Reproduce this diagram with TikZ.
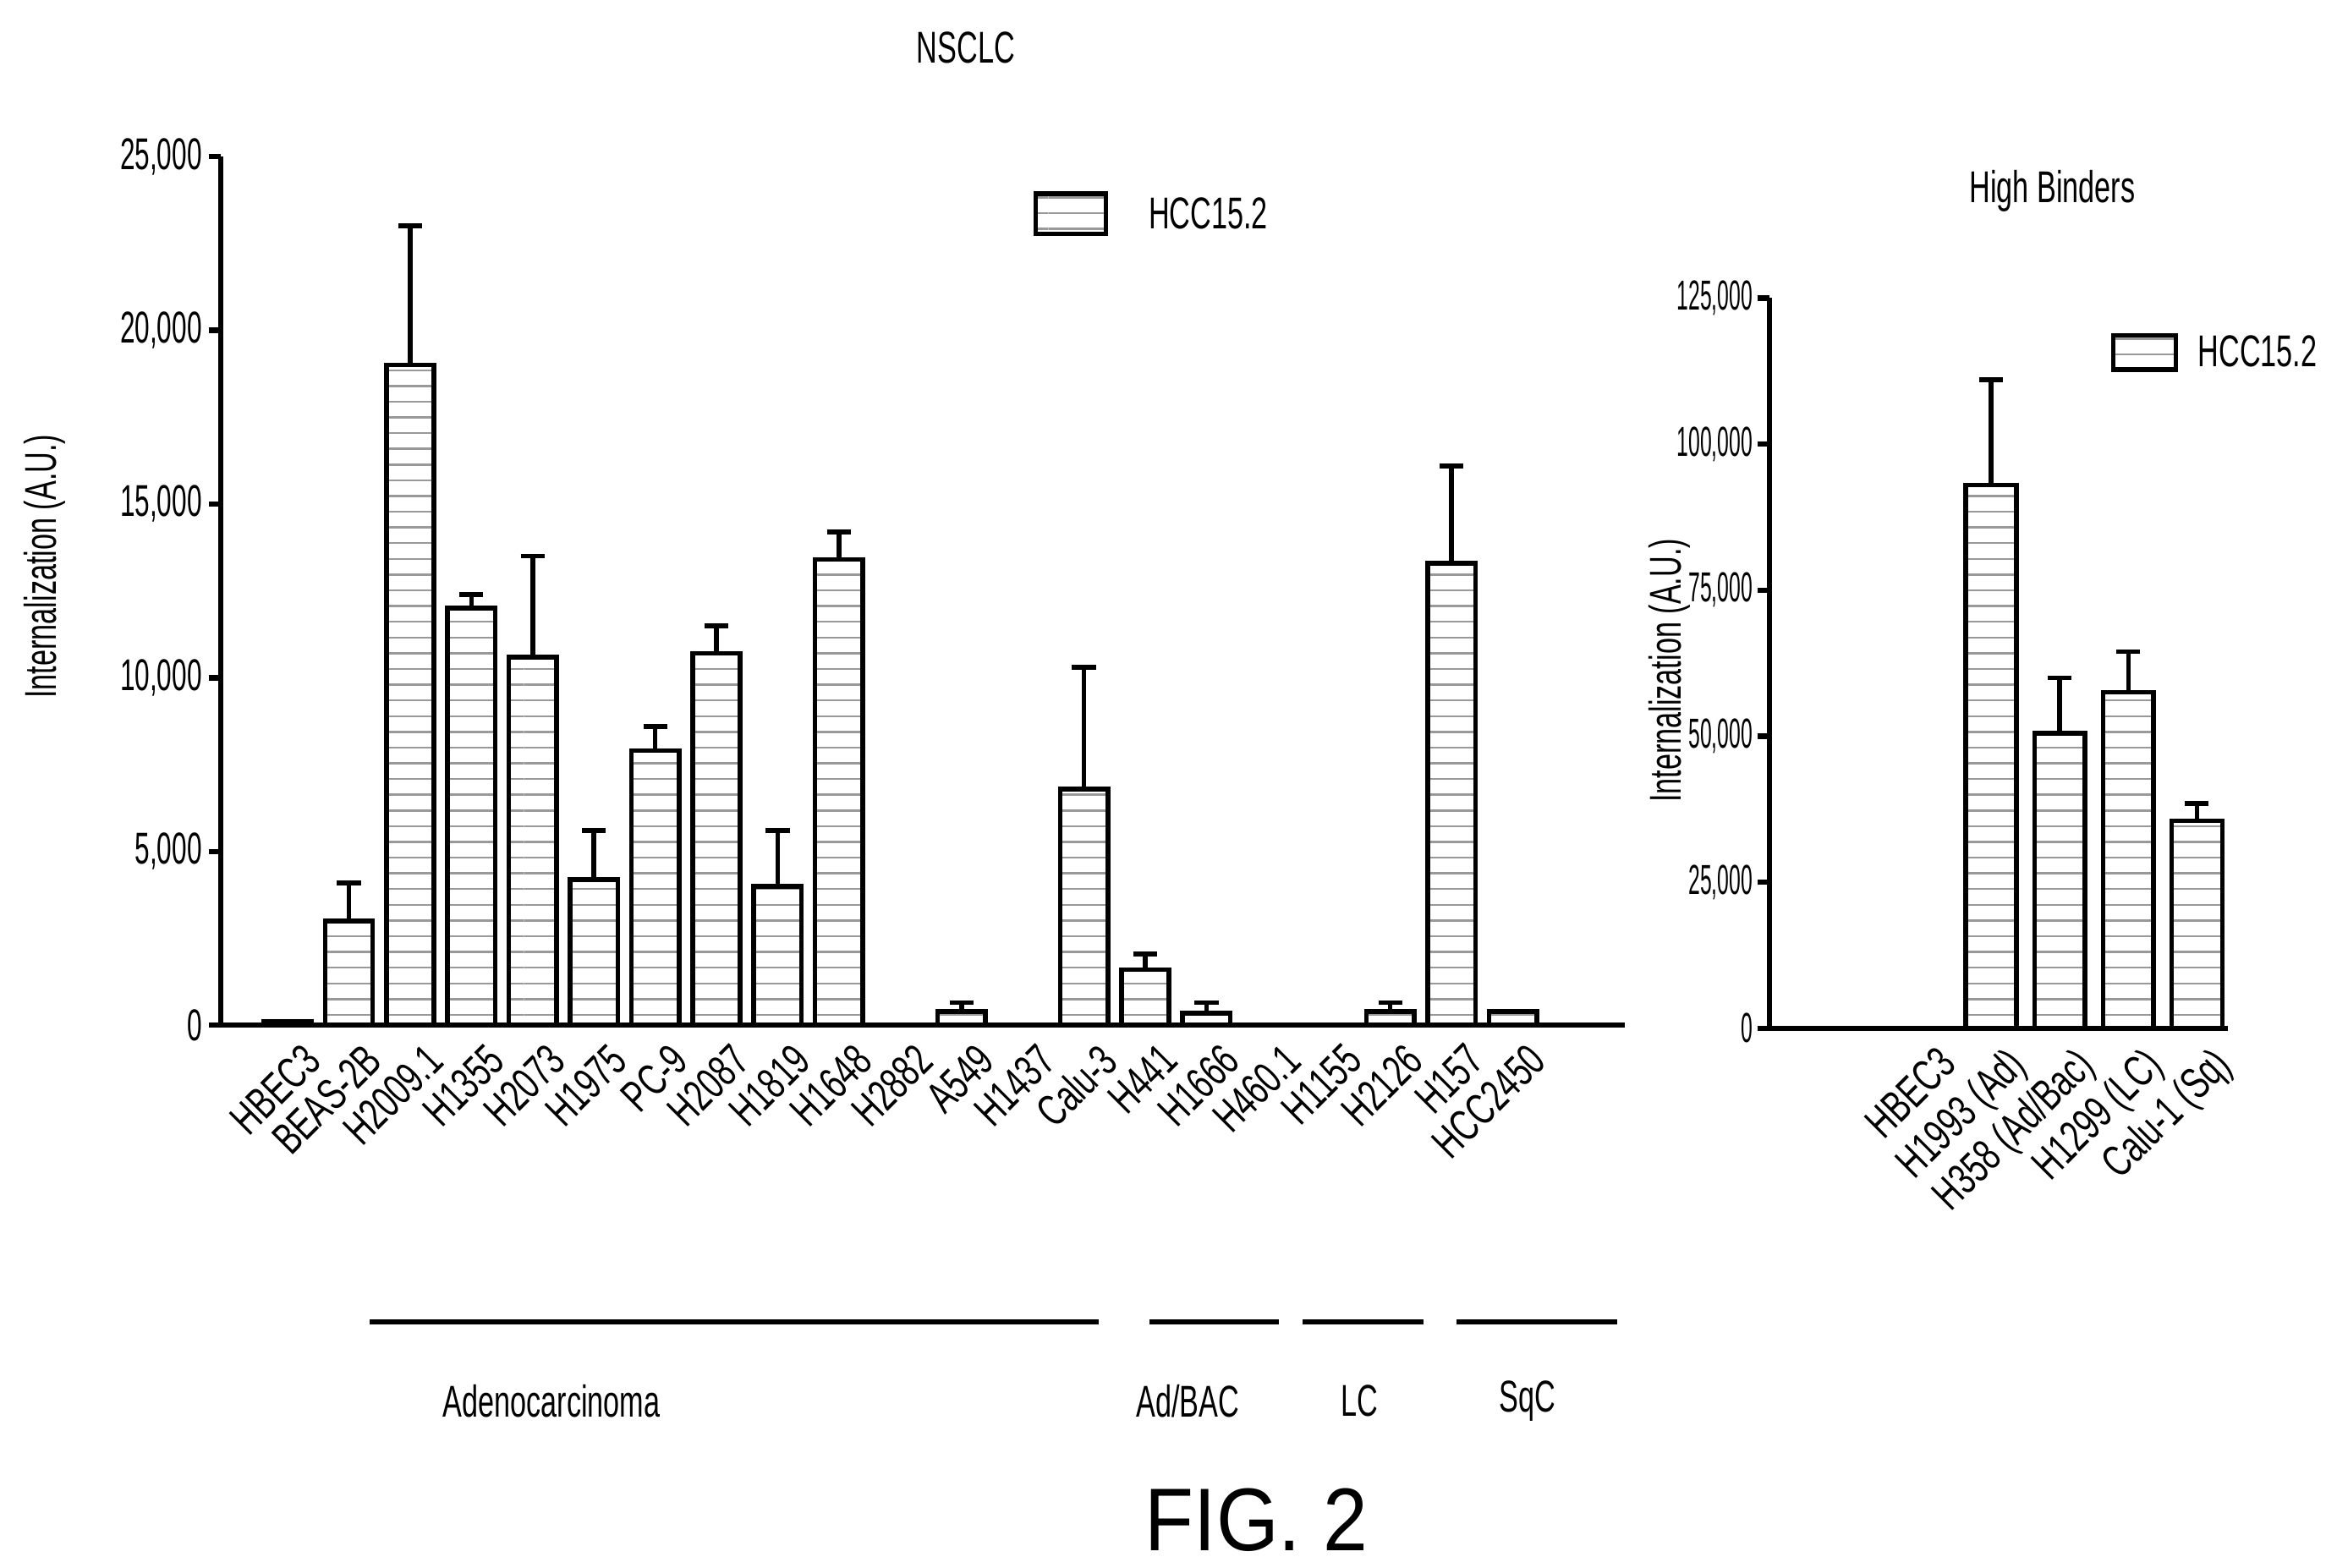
\documentclass[tikz,border=0pt]{standalone}
\usepackage{fontspec}
\setmainfont{Liberation Sans}
\usetikzlibrary{patterns}
\begin{document}
\begin{tikzpicture}[x=0.01cm,y=-0.01cm,
 bar/.style={draw=black,line width=0.9pt,pattern=horizontal lines,pattern color=gray!80},
 err/.style={line width=0.9pt},
 lbl/.style={font=\fontsize{8.5}{10}\selectfont,inner sep=1pt},
 ax/.style={line width=1pt}]
\useasboundingbox (0,0) rectangle (1568,1052);
% ---------- left chart
\node[lbl,xscale=0.65] (t1) at (648,32) {NSCLC};
\draw[ax] (148,105) -- (148,688) -- (1090,688);
\foreach \v/\s in {0/0,5/{5,000},10/{10,000},15/{15,000},20/{20,000},25/{25,000}}{
  \pgfmathsetmacro\yy{688-\v/25*583}
  \draw[ax] (140,\yy) -- (148,\yy);
  \node[lbl,anchor=east,xscale=0.6] at (138,\yy) {\s};
}
\node[lbl,rotate=90,xscale=0.65] (yl1) at (30,380) {Internalization (A.U.)};
\foreach \i/\n/\v/\e in {0/HBEC3/0.1/0,1/BEAS-2B/3/4.1,2/H2009.1/19/23,3/H1355/12/12.4,
 4/H2073/10.6/13.5,5/H1975/4.2/5.6,6/PC-9/7.9/8.6,7/H2087/10.7/11.5,8/H1819/4/5.6,
 9/H1648/13.4/14.2,10/H2882/0/0,11/A549/0.4/0.65,12/H1437/0/0,13/Calu-3/6.8/10.3,
 14/H441/1.6/2.05,15/H1666/0.35/0.65,16/H460.1/0/0,17/H1155/0/0,18/H2126/0.4/0.65,
 19/H157/13.3/16.1,20/HCC2450/0.4/0}{
  \pgfmathsetmacro\xx{193+\i*41.1}
  \pgfmathsetmacro\yy{688-\v/25*583}
  \pgfmathsetmacro\ye{688-\e/25*583}
  \pgfmathparse{\v>0?1:0}\ifnum\pgfmathresult=1 \draw[bar] (\xx-16,688) rectangle (\xx+16,\yy); \fi
  \pgfmathparse{\e>0?1:0}\ifnum\pgfmathresult=1 \draw[err] (\xx,\yy) -- (\xx,\ye) (\xx-8,\ye) -- (\xx+8,\ye); \fi
  \node[lbl,anchor=north east,rotate=45,xscale=0.7] at (\xx+8,694) {\n};
}
\draw[line width=0.9pt] (248,887) -- (737,887) (771,887) -- (858,887) (874,887) -- (955,887) (977,887) -- (1085,887);
\node[lbl,xscale=0.65] (g1) at (370,940) {Adenocarcinoma};
\node[lbl,xscale=0.65] (g2) at (797,940) {Ad/BAC};
\node[lbl,xscale=0.65] (g3) at (912,940) {LC};
\node[lbl,xscale=0.65] (g4) at (1025,940) {SqC};
\draw[bar] (695,130) rectangle (742,157);
\node[lbl,anchor=west,xscale=0.65] (lg1) at (768,143) {HCC15.2};
% ---------- right chart
\node[lbl,xscale=0.65] (t2) at (1377,128) {High Binders};
\draw[ax] (1187,200) -- (1187,690) -- (1495,690);
\foreach \v/\s in {0/0,25/{25,000},50/{50,000},75/{75,000},100/{100,000},125/{125,000}}{
  \pgfmathsetmacro\yy{690-\v/25*98}
  \draw[ax] (1179,\yy) -- (1187,\yy);
  \node[lbl,anchor=east,xscale=0.5,font=\fontsize{8}{10}\selectfont] at (1178,\yy) {\s};
}
\node[lbl,rotate=90,xscale=0.65] (yl2) at (1120,450) {Internalization (A.U.)};
\foreach \i/\n/\v/\e in {0/HBEC3/0/0,1/H1993 (Ad)/93/111,2/{H358 (Ad/Bac)}/50.5/60,
 3/H1299 (LC)/57.5/64.5,4/Calu-1 (Sq)/35.5/38.5}{
  \pgfmathsetmacro\xx{1290+\i*46}
  \pgfmathsetmacro\yy{690-\v/25*98}
  \pgfmathsetmacro\ye{690-\e/25*98}
  \ifnum\i>0 \draw[bar] (\xx-17,690) rectangle (\xx+17,\yy);
   \draw[err] (\xx,\yy) -- (\xx,\ye) (\xx-8,\ye) -- (\xx+8,\ye); \fi
  \node[lbl,anchor=north east,rotate=45,xscale=0.7] at (\xx+8,696) {\n};
}
\draw[bar] (1418,225) rectangle (1460,248);
\node[lbl,anchor=west,xscale=0.65] (lg2) at (1472,236) {HCC15.2};
\node[font=\fontsize{17}{20}\selectfont,xscale=0.9] (fig) at (843,1020) {FIG. 2};
\end{tikzpicture}
\end{document}
